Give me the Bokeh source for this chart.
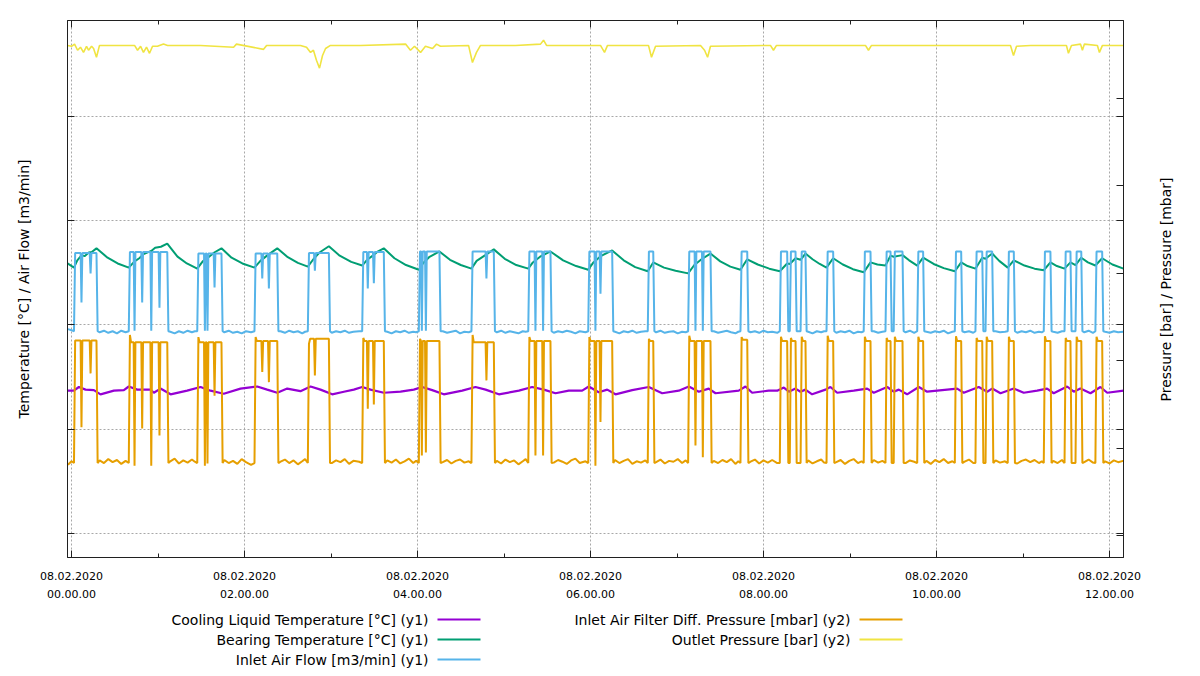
import math
from bokeh.plotting import figure
from bokeh.models import Range1d, LinearAxis, FixedTicker, Grid
from bokeh.layouts import column, row
from bokeh.embed import file_html
from bokeh.resources import INLINE
from bokeh.core.properties import value

# ---------------- axes ----------------
X_TICKS = [0, 120, 240, 360, 480, 600, 720]          # minutes after 08.02.2020 00:00
X_MINOR = [60, 180, 300, 420, 540, 660]
X_LABELS = ["08.02.2020\n00.00.00", "08.02.2020\n02.00.00", "08.02.2020\n04.00.00",
            "08.02.2020\n06.00.00", "08.02.2020\n08.00.00", "08.02.2020\n10.00.00",
            "08.02.2020\n12.00.00"]
Y1_TICKS = [0, 20, 40, 60, 80]
Y2_TICKS = [0, 2, 4, 6, 8, 10]
X_START, X_END = -2.8, 729.7
Y1_START, Y1_END = -4.6, 98.4
Y2_START, Y2_END = -0.50, 11.78

# ---------------- compressor load periods (minutes) ----------------
T_ON = [1.7, 39.7, 87.2, 126.9, 163.9, 201.6, 240.9, 277.4, 316.8, 358.4, 399.7, 427.7,
        464.0, 491.3, 498.2, 505.7, 523.7, 549.5, 564.6, 570.3, 586.6, 612.7, 627.0,
        634.0, 649.4, 674.4, 688.8, 696.4, 710.2]
T_OFF = [17.3, 66.4, 104.0, 142.7, 178.5, 216.6, 255.2, 292.9, 332.2, 375.0, 403.5, 443.2,
         468.7, 496.4, 502.2, 509.1, 528.3, 554.2, 568.1, 576.4, 590.7, 617.1, 631.7,
         638.6, 653.6, 679.0, 692.9, 700.4, 714.9]
AIRFLOW_HIGH = [53.8, 54.0, 53.7, 53.7, 53.8, 54.0, 54.1, 54.1, 54.1, 54.1, 54.1, 54.1,
                54.1, 54.1, 54.1, 54.1, 54.1, 54.1, 54.1, 54.1, 54.1, 54.1, 54.1, 54.1,
                54.1, 54.1, 54.1, 54.1, 54.1]
AIRFLOW_LOW = 38.8
FILTER_HIGH = [4.46, 4.42, 4.42, 4.45, 4.50, 4.45, 4.45, 4.42, 4.45, 4.45, 4.45, 4.45,
               4.48, 4.45, 4.45, 4.45, 4.45, 4.45, 4.45, 4.45, 4.45, 4.45, 4.45, 4.45,
               4.45, 4.45, 4.45, 4.45, 4.45]
FILTER_START = [4.46, 4.59, 4.54, 4.54, 4.39, 4.52, 4.50, 4.59, 4.54, 4.54, 4.50, 4.57,
                4.54, 4.55, 4.52, 4.55, 4.57, 4.55, 4.52, 4.55, 4.55, 4.56, 4.52, 4.55,
                4.55, 4.56, 4.52, 4.55, 4.55]
FILTER_LOW = 1.66

# short unload dips inside load periods
DIP_T = [6.9, 13.2, 43.7, 49.0, 55.3, 61.0, 92.5, 94.3, 99.2, 132.3, 136.9, 168.8, 205.5,
         209.7, 243.0, 245.8, 287.8, 321.8, 327.1, 363.4, 366.9, 432.8, 437.9]
DIP_AIRFLOW = [44.3, 49.9, 38.9, 44.3, 38.9, 43.3, 38.9, 38.9, 47.2, 48.9, 47.0, 50.4, 47.0,
               48.0, 38.9, 38.9, 48.9, 38.9, 38.9, 38.9, 46.0, 38.9, 38.9]
DIP_FILTER = [2.48, 3.71, 1.60, 2.45, 1.60, 2.29, 1.60, 1.65, 3.20, 3.74, 3.51, 3.66, 2.90,
              3.00, 1.83, 1.90, 3.55, 1.83, 1.83, 1.60, 2.60, 2.06, 1.79]

# idle (unloaded) readings
IDLE_T = [-2.5, 0.0,
          19.5, 22.5, 25.5, 28.5, 31.5, 34.5, 37.5,
          68.5, 71.5, 74.5, 77.5, 80.5, 83.5, 85.5,
          106, 109, 112, 115, 118, 121, 124.5,
          145, 148, 151, 154, 157, 160, 162,
          180.5, 183.5, 186.5, 189.5, 192.5, 195.5, 199.5,
          219, 222, 225, 228, 231, 234, 237, 239,
          257.5, 260.5, 263.5, 266.5, 269.5, 272.5, 275.5,
          295, 298, 301, 304, 307, 310, 313, 315,
          334.5, 337.5, 340.5, 343.5, 346.5, 349.5, 352.5, 356.5,
          377, 380, 383, 386, 389, 392, 395, 398,
          405.5, 408.5, 411.5, 414.5, 417.5, 420.5, 423.5, 426,
          445.5, 448.5, 451.5, 454.5, 457.5, 460.5, 462.5,
          471, 474, 477, 480, 483, 486, 489.5,
          511, 514, 517, 520, 522,
          530.5, 533.5, 536.5, 539.5, 542.5, 545.5, 548,
          556.5, 559.5, 562.5,
          578.5, 581.5, 584.5,
          593, 596, 599, 602, 605, 608, 611,
          619.5, 622.5, 625.5,
          641, 644, 647.5,
          656, 659, 662, 665, 668, 671, 673,
          681, 684, 687,
          702.5, 705.5, 708.5,
          717, 720, 723, 726, 729.5]
IDLE_AIRFLOW = [39.2, 39.0,
                38.6, 38.9, 38.5, 38.8, 38.4, 38.9, 38.6,
                38.7, 38.4, 38.8, 38.5, 38.9, 38.6, 38.8,
                38.6, 38.9, 38.5, 38.7, 38.4, 38.8, 38.6,
                38.8, 38.5, 38.9, 38.6, 38.8, 38.4, 38.7,
                38.5, 38.8, 38.6, 38.9, 38.5, 38.7, 38.8,
                38.7, 38.4, 38.8, 38.6, 38.9, 38.5, 38.7, 38.6,
                38.8, 38.5, 38.7, 38.9, 38.4, 38.7, 38.6,
                38.6, 38.9, 38.5, 38.8, 38.6, 38.4, 38.8, 38.7,
                38.5, 38.8, 38.6, 38.9, 38.7, 38.4, 38.8, 38.6,
                38.7, 38.4, 38.8, 38.6, 38.9, 38.5, 38.7, 38.8,
                38.6, 38.9, 38.5, 38.7, 38.8, 38.4, 38.7, 38.6,
                38.8, 38.5, 38.7, 38.9, 38.6, 38.4, 38.7,
                38.6, 38.8, 38.5, 38.9, 38.6, 38.7, 38.5,
                38.7, 38.4, 38.8, 38.6, 38.8,
                38.5, 38.8, 38.6, 38.9, 38.4, 38.7, 38.6,
                38.8, 38.5, 38.7,
                38.6, 38.9, 38.5,
                38.7, 38.5, 38.8, 38.6, 38.9, 38.4, 38.7,
                38.6, 38.8, 38.5,
                38.8, 38.6, 38.7,
                38.5, 38.8, 38.6, 38.9, 38.5, 38.7, 38.6,
                38.7, 38.5, 38.8,
                38.6, 38.9, 38.5,
                38.7, 38.5, 38.8, 38.6, 38.7]
IDLE_FILTER = [1.62, 1.70,
               1.72, 1.66, 1.75, 1.68, 1.73, 1.64, 1.71,
               1.70, 1.76, 1.65, 1.72, 1.67, 1.74, 1.69,
               1.73, 1.66, 1.71, 1.64, 1.75, 1.68, 1.62,
               1.69, 1.74, 1.66, 1.72, 1.63, 1.70, 1.75,
               1.66, 1.72, 1.68, 1.75, 1.64, 1.71, 1.69,
               1.72, 1.67, 1.74, 1.65, 1.70, 1.76, 1.66, 1.71,
               1.68, 1.73, 1.65, 1.71, 1.74, 1.67, 1.70,
               1.71, 1.65, 1.74, 1.68, 1.72, 1.63, 1.70, 1.75,
               1.67, 1.73, 1.69, 1.64, 1.72, 1.76, 1.66, 1.70,
               1.73, 1.66, 1.71, 1.75, 1.64, 1.70, 1.67, 1.72,
               1.68, 1.74, 1.65, 1.71, 1.69, 1.75, 1.66, 1.72,
               1.71, 1.66, 1.73, 1.68, 1.75, 1.64, 1.70,
               1.69, 1.74, 1.65, 1.72, 1.67, 1.73, 1.66,
               1.72, 1.65, 1.70, 1.74, 1.67,
               1.68, 1.73, 1.64, 1.71, 1.75, 1.66, 1.70,
               1.73, 1.67, 1.71,
               1.66, 1.72, 1.69,
               1.71, 1.64, 1.73, 1.68, 1.75, 1.66, 1.70,
               1.69, 1.74, 1.66,
               1.72, 1.67, 1.70,
               1.65, 1.71, 1.74, 1.68, 1.73, 1.66, 1.70,
               1.71, 1.66, 1.73,
               1.68, 1.74, 1.67,
               1.70, 1.65, 1.72, 1.68, 1.71]

# bearing temperature (y1)
BEARING_T = [-2.8, 1.7, 4.0, 7.0, 9.0, 12.0, 14.0, 17.3,
             25.0, 32.0, 39.7, 43.7, 47.0, 50.0, 55.3, 58.0, 62.0, 66.4,
             73.5, 80.0, 87.2, 91.0, 95.0, 99.0, 104.0,
             111.0, 118.5, 126.9, 131.0, 136.0, 142.7,
             150.0, 157.0, 163.9, 168.0, 172.0, 178.5,
             186.0, 194.0, 201.6, 205.0, 209.0, 212.0, 216.6,
             224.0, 232.0, 240.9, 244.0, 248.0, 255.2,
             262.5, 270.0, 277.4, 281.0, 287.0, 292.9,
             300.5, 308.5, 316.8, 320.0, 325.0, 332.2,
             341.0, 350.0, 358.4, 362.0, 367.0, 375.0,
             383.0, 391.0, 399.7, 403.5,
             411.0, 419.0, 427.7, 432.0, 437.0, 443.2,
             450.0, 457.0, 464.0, 468.7,
             476.0, 484.0, 491.3, 496.4, 498.2, 502.2, 505.7, 509.1,
             514.0, 519.0, 523.7, 528.3,
             535.0, 542.0, 549.5, 554.2,
             559.0, 564.6, 568.1, 570.3, 576.4,
             581.0, 586.6, 590.7,
             598.0, 605.0, 612.7, 617.1,
             621.5, 627.0, 631.7, 634.0, 638.6,
             643.5, 649.4, 653.6,
             661.0, 668.0, 674.4, 679.0,
             683.5, 688.8, 692.9, 696.4, 700.4,
             705.0, 710.2, 714.9,
             722.0, 729.7]
BEARING_V = [51.8, 51.0, 52.4, 53.4, 53.2, 53.9, 54.0, 54.7,
             52.9, 51.8, 51.0, 52.2, 52.8, 53.6, 54.2, 54.8, 55.0, 55.6,
             53.1, 51.8, 50.8, 52.2, 53.0, 53.9, 54.7,
             52.9, 51.8, 51.0, 52.3, 53.4, 54.7,
             53.0, 51.9, 51.2, 52.7, 53.9, 55.1,
             53.3, 52.1, 51.4, 52.5, 53.3, 54.0, 54.7,
             52.8, 51.5, 50.6, 51.9, 53.0, 54.1,
             52.5, 51.5, 50.8, 52.3, 53.4, 54.5,
             52.7, 51.5, 50.8, 52.0, 53.1, 54.1,
             52.4, 51.3, 50.6, 52.0, 53.2, 54.3,
             52.4, 51.1, 50.3, 52.0,
             51.0, 50.4, 49.9, 51.5, 52.6, 53.7,
             52.2, 51.2, 50.6, 52.6,
             51.6, 50.8, 50.3, 51.8, 51.7, 52.8, 52.5, 53.7,
             52.6, 51.7, 51.0, 52.8,
             51.6, 50.7, 50.1, 52.0,
             51.6, 51.4, 53.3, 53.1, 53.4,
             52.4, 51.4, 52.9,
             51.7, 50.9, 50.3, 52.0,
             51.3, 50.8, 52.9, 52.7, 53.7,
             52.3, 51.0, 52.4,
             51.4, 50.8, 50.5, 52.0,
             51.3, 50.8, 52.0, 51.5, 52.9,
             52.0, 51.4, 52.8,
             51.6, 50.8]

# cooling liquid temperature (y1)
COOLING_T = [-2.8, 1.6, 5.1, 9.7, 15.5, 20.1, 29.4, 36.3, 39.7, 45.6, 54.8, 57.1, 61.7, 68.7,
             80.2, 89.5, 96.4, 105.6, 117.2, 128.8, 135.7, 142.7, 149.6, 158.8, 165.8, 172.7,
             180.8, 188.9, 195.8, 201.6, 207.4, 216.6, 228.2, 237.4,
             243.2, 250.2, 258.2, 271.0, 280.2, 287.2, 296.4, 310.3, 319.5, 327.6,
             335.7, 344.9, 354.2, 358.8, 365.7, 371.6, 377.3, 388.9, 400.4, 409.7,
             421.2, 428.2, 435.1, 442.0, 446.7, 462.8, 467.5, 472.1, 483.6,
             489.5, 494.1, 497.6, 502.2, 505.6, 509.1, 513.7, 523.0, 526.4, 531.1,
             542.6, 551.9, 556.5, 565.8, 570.3, 573.8, 579.6, 587.7, 593.5, 607.4,
             614.3, 618.9, 629.3, 635.1, 638.6, 644.4, 653.6, 660.5, 669.8, 676.7,
             681.3, 690.6, 695.2, 699.8, 706.8, 713.7, 718.4, 729.8]
COOLING_V = [27.4, 27.4, 28.1, 27.6, 27.5, 26.7, 27.4, 27.5, 28.2, 27.6, 27.6, 27.0, 27.8, 26.7,
             27.4, 28.1, 27.4, 26.8, 27.8, 28.2, 27.6, 27.0, 27.8, 27.3, 28.2, 27.6,
             26.7, 27.2, 27.6, 28.1, 27.6, 27.0, 27.2, 27.6,
             28.1, 27.5, 26.7, 27.4, 28.1, 27.6, 26.7, 27.4, 28.1, 27.6,
             26.9, 27.4, 27.4, 28.2, 27.1, 27.6, 26.7, 27.5, 28.1, 26.9,
             27.4, 28.2, 27.2, 27.8, 26.9, 27.4, 28.2, 27.0, 27.4,
             27.4, 28.0, 27.2, 27.8, 27.2, 27.6, 26.7, 27.6, 28.1, 27.0,
             27.4, 27.8, 27.0, 28.1, 27.2, 27.6, 26.7, 28.1, 27.2, 27.6,
             27.8, 27.0, 28.1, 27.2, 27.8, 26.9, 27.8, 27.0, 27.4, 27.8,
             26.9, 28.2, 27.2, 27.8, 26.9, 28.1, 27.0, 27.4]

# outlet pressure (y2)
OUTLET_T = [-2.8, 0.0, 2.1, 4.2, 6.2, 8.3, 10.4, 11.8, 13.9, 15.3, 17.3, 19.4,
            43.7, 45.8, 47.9, 49.9, 52.0, 54.1, 56.2, 59.6, 63.8, 66.6,
            89.5, 112.4, 114.4, 133.2, 135.3,
            158.8, 163.0, 165.8, 167.8, 169.9, 172.0, 174.1, 176.2, 179.6,
            200.4, 231.7, 235.1, 237.9, 242.1, 245.5, 250.4, 253.2, 255.9,
            275.4, 278.1, 280.9, 283.7,
            308.0, 325.3, 327.4, 329.5,
            366.9, 369.7, 371.8,
            400.2, 402.3, 405.1,
            436.3, 439.1, 441.2, 443.2,
            484.8, 486.9, 489.0,
            550.7, 552.8, 554.9,
            651.3, 653.4, 655.5, 665.2,
            690.1, 691.5, 693.6,
            699.9, 701.2, 702.6,
            711.6, 713.0, 715.1,
            729.7]
OUTLET_V = [11.21, 11.19, 11.24, 11.10, 11.17, 11.05, 11.19, 11.10, 11.19, 11.14, 10.94, 11.21,
            11.21, 11.10, 11.19, 11.05, 11.17, 11.03, 11.19, 11.19, 11.24, 11.21,
            11.21, 11.17, 11.24, 11.12, 11.21,
            11.21, 11.17, 11.05, 11.10, 10.87, 10.69, 10.98, 11.14, 11.21,
            11.21, 11.24, 11.10, 11.19, 11.05, 11.19, 11.14, 11.24, 11.19,
            11.21, 10.82, 11.05, 11.21,
            11.21, 11.24, 11.33, 11.21,
            11.21, 11.05, 11.21,
            11.21, 10.94, 11.19,
            11.21, 11.10, 10.94, 11.19,
            11.21, 11.10, 11.21,
            11.21, 11.10, 11.21,
            11.21, 10.98, 11.19, 11.21,
            11.21, 11.03, 11.21,
            11.24, 11.10, 11.24,
            11.21, 11.05, 11.21,
            11.21]

LEGEND_LEFT = ["Cooling Liquid Temperature [°C] (y1)", "Bearing Temperature [°C] (y1)",
               "Inlet Air Flow [m3/min] (y1)"]
LEGEND_RIGHT = ["Inlet Air Filter Diff. Pressure [mbar] (y2)", "Outlet Pressure [bar] (y2)"]
Y1_TITLE = "Temperature [°C] / Air Flow [m3/min]"
Y2_TITLE = "Pressure [bar] / Pressure [mbar]"

C_PURPLE, C_GREEN, C_BLUE, C_ORANGE, C_YELLOW = "#9400d3", "#009e73", "#56b4e9", "#e69f00", "#f0e442"
RISE = 0.8
FONT = "DejaVu Sans"


def build(high, start_hi, low, dip_v, idle_v):
    pts = list(zip(IDLE_T, idle_v))
    for i, (s, e) in enumerate(zip(T_ON, T_OFF)):
        pts += [(s, low), (s + RISE, start_hi[i]), (s + 2 * RISE, high[i]),
                (e, high[i]), (e + RISE, low)]
    for t, v in zip(DIP_T, dip_v):
        i = next(k for k, (s, e) in enumerate(zip(T_ON, T_OFF)) if s <= t <= e)
        pts += [(t - 0.6, high[i]), (t, v), (t + 0.6, high[i])]
    pts.sort()
    return [q[0] for q in pts], [q[1] for q in pts]


air_t, air_v = build(AIRFLOW_HIGH, AIRFLOW_HIGH, AIRFLOW_LOW, DIP_AIRFLOW, IDLE_AIRFLOW)
fil_t, fil_v = build(FILTER_HIGH, FILTER_START, FILTER_LOW, DIP_FILTER, IDLE_FILTER)

# frame placement (pixels)
F_LEFT, F_RIGHT, F_TOP, F_BOTTOM = 67, 1123, 20, 557
MAIN_W, MAIN_H, SIDE_W, LEG_H = 1146, 608, 54, 68

p = figure(width=MAIN_W, height=MAIN_H, x_range=Range1d(X_START, X_END),
           y_range=Range1d(Y1_START, Y1_END), output_backend="svg", toolbar_location=None,
           min_border_left=F_LEFT, min_border_right=MAIN_W - F_RIGHT, min_border_top=F_TOP,
           min_border_bottom=MAIN_H - F_BOTTOM, x_axis_location=None, y_axis_location=None)
p.background_fill_color = "white"
p.border_fill_color = "white"
p.outline_line_color = "#202020"
p.outline_line_width = 1
p.extra_y_ranges = {"y2": Range1d(Y2_START, Y2_END)}

x_ticker = FixedTicker(ticks=X_TICKS, minor_ticks=X_MINOR)
y_ticker = FixedTicker(ticks=Y1_TICKS, minor_ticks=[])
mirror = [Y2_START + (v - Y1_START) / (Y1_END - Y1_START) * (Y2_END - Y2_START) for v in Y1_TICKS]
y2_ticks = sorted(Y2_TICKS + mirror)
y2_ticker = FixedTicker(ticks=y2_ticks, minor_ticks=[])


def style(ax, ticks=None):
    ax.axis_line_color = "#202020"
    ax.major_tick_line_color = "#202020"
    ax.minor_tick_line_color = "#202020"
    ax.major_tick_in = 7
    ax.major_tick_out = 0
    ax.minor_tick_in = 4
    ax.minor_tick_out = 0
    ax.axis_label_text_font = FONT
    ax.axis_label_text_font_size = "14px"
    ax.axis_label_text_font_style = "normal"
    ax.axis_label_text_color = "black"
    if ticks is not None:
        ax.major_label_overrides = {t: "" for t in ticks}
        ax.major_label_standoff = 0


xb = LinearAxis(ticker=x_ticker)
style(xb)
xb.major_label_overrides = {t: l for t, l in zip(X_TICKS, X_LABELS)}
xb.major_label_text_font = FONT
xb.major_label_text_font_size = "11px"
xb.major_label_text_color = "black"
xb.major_label_standoff = 12
xb.major_label_text_line_height = 1.45
p.add_layout(xb, "below")

xt = LinearAxis(ticker=x_ticker)
style(xt, X_TICKS)
p.add_layout(xt, "above")

yl = LinearAxis(ticker=y_ticker, axis_label=Y1_TITLE)
style(yl, Y1_TICKS)
yl.axis_label_standoff = 36
p.add_layout(yl, "left")

yr = LinearAxis(ticker=y2_ticker, y_range_name="y2")
style(yr, y2_ticks)
p.add_layout(yr, "right")

p.xgrid.grid_line_color = None
p.ygrid.grid_line_color = None
gx = Grid(dimension=0, ticker=x_ticker, grid_line_color="#a8a8a8", grid_line_dash="2 2", grid_line_width=1)
gy = Grid(dimension=1, ticker=y_ticker, grid_line_color="#a8a8a8", grid_line_dash="2 2", grid_line_width=1)
p.add_layout(gx)
p.add_layout(gy)

p.line(COOLING_T, COOLING_V, color=C_PURPLE, line_width=2.2)
p.line(BEARING_T, BEARING_V, color=C_GREEN, line_width=2)
p.line(air_t, air_v, color=C_BLUE, line_width=2)
p.line(fil_t, fil_v, color=C_ORANGE, line_width=2, y_range_name="y2")
p.line(OUTLET_T, OUTLET_V, color=C_YELLOW, line_width=1.6, y_range_name="y2")

# right-hand title strip (page-pixel coordinates), text reads bottom-to-top
rf = figure(width=SIDE_W, height=MAIN_H, x_range=Range1d(MAIN_W, MAIN_W + SIDE_W),
            y_range=Range1d(F_BOTTOM, F_TOP), output_backend="svg", toolbar_location=None,
            min_border_left=0, min_border_right=0, min_border_top=F_TOP,
            min_border_bottom=MAIN_H - F_BOTTOM, x_axis_location=None, y_axis_location=None)
rf.outline_line_color = None
rf.grid.visible = False
rf.background_fill_color = "white"
rf.border_fill_color = "white"
rf.text(x=[1165], y=[289], text=[Y2_TITLE], angle=math.pi / 2, text_align="center",
        text_baseline="middle", text_font=value(FONT), text_font_size="14px", text_color="black")

# legend strip (gnuplot style: text then sample line), page-pixel coordinates
lf = figure(width=MAIN_W + SIDE_W, height=LEG_H, x_range=Range1d(F_LEFT, F_RIGHT),
            y_range=Range1d(LEG_H, 0), output_backend="svg", toolbar_location=None,
            min_border_left=F_LEFT, min_border_right=MAIN_W + SIDE_W - F_RIGHT,
            min_border_top=0, min_border_bottom=0, x_axis_location=None, y_axis_location=None)
lf.outline_line_color = None
lf.grid.visible = False
lf.background_fill_color = "white"
lf.border_fill_color = "white"
rows = [11, 31, 51]
lf.text(x=[428] * 3, y=rows, text=LEGEND_LEFT, text_align="right", text_baseline="middle",
        text_font=value(FONT), text_font_size="14px", text_color="black")
lf.segment(x0=[437] * 3, x1=[480] * 3, y0=rows, y1=rows, line_color=[C_PURPLE, C_GREEN, C_BLUE], line_width=2)
lf.text(x=[850] * 2, y=rows[:2], text=LEGEND_RIGHT, text_align="right", text_baseline="middle",
        text_font=value(FONT), text_font_size="14px", text_color="black")
lf.segment(x0=[859] * 2, x1=[902] * 2, y0=rows[:2], y1=rows[:2], line_color=[C_ORANGE, C_YELLOW], line_width=2)

layout = column(row(p, rf, spacing=0), lf, spacing=0)
open("out.html", "w").write(file_html(layout, INLINE))
